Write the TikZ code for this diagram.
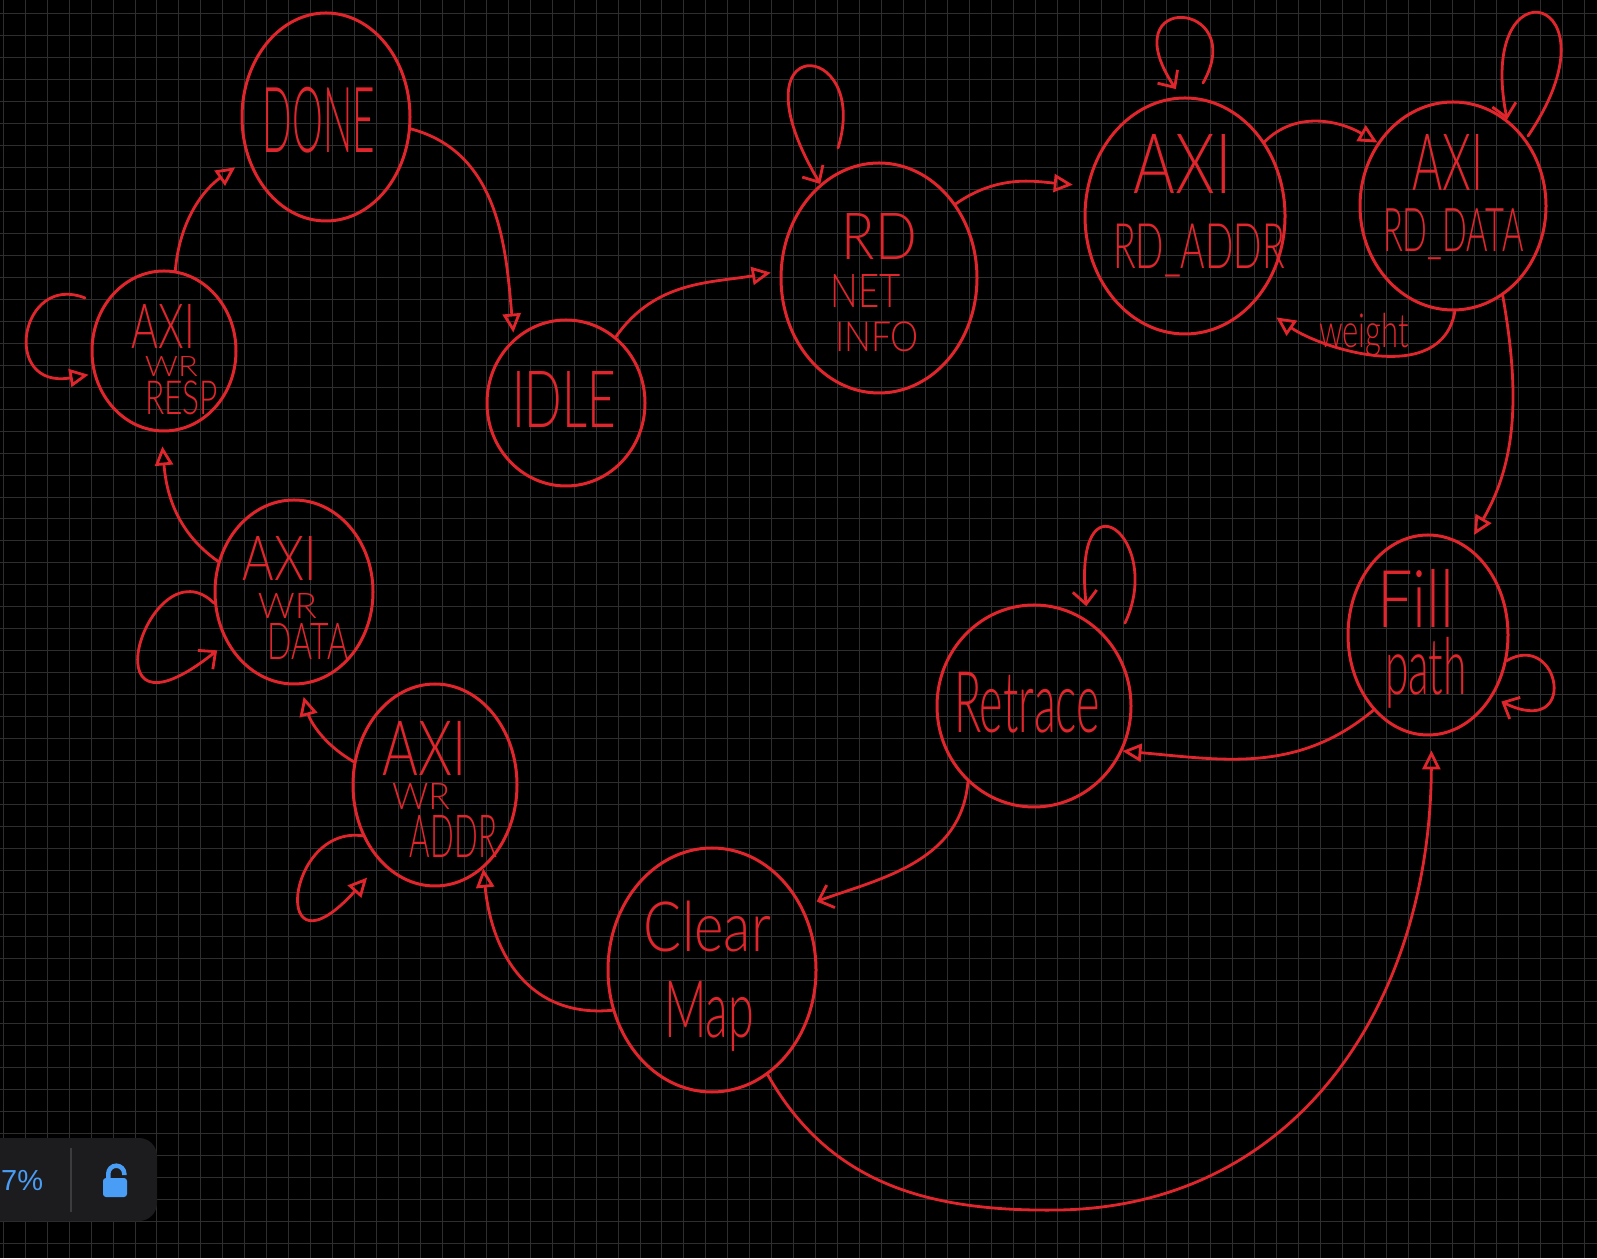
\documentclass[tikz,border=0pt]{standalone}
\usepackage{fontspec}
\newfontfamily\hand{Lato Light}
\newfontfamily\uifont{Liberation Sans}
\usetikzlibrary{shapes.geometric,arrows.meta}
\definecolor{inkred}{RGB}{224,38,44}
\definecolor{gridc}{RGB}{46,46,46}
\definecolor{widgetbg}{RGB}{28,28,30}
\definecolor{uiblue}{RGB}{74,157,245}
\definecolor{divc}{RGB}{60,60,62}
\newcommand\fitt[3]{\resizebox*{#1pt}{#2pt}{\hand #3}}
% one handwritten line: dx, dy (of its centre), width, height, text
\newcommand\tl[5]{\makebox[0pt]{\hspace*{#1pt}\hspace*{#1pt}\raisebox{\dimexpr#2pt-#4pt/2\relax}[0pt][0pt]{\raisebox{\depth}{\fitt{#3}{#4}{#5}}}}}
\begin{document}
\begin{tikzpicture}[x=1pt,y=1pt,
  state/.style={ellipse, draw=inkred, line width=3pt, inner sep=0pt, text=inkred},
  lbl/.style={inner sep=0pt, text=inkred},
  edge/.style={draw=inkred, line width=2.8pt, line cap=round, line join=round, -{Triangle[open,length=19pt,width=18pt]}},
  barb/.style={draw=inkred, line width=2.8pt, line cap=round, line join=round, -{Straight Barb[length=13pt,width=24pt]}},
  gridline/.style={draw=gridc, line width=1pt}]
\useasboundingbox (0,0) rectangle (1597,1258);
\fill[black] (0,0) rectangle (1597,1258);
\begin{scope}
\clip (0,0) rectangle (1597,1258);
% grid
\foreach \i in {0,...,72} \draw[gridline] ({3.3+21.955*\i},0) -- ({3.3+21.955*\i},1258);
\foreach \j in {0,...,56} \draw[gridline] (0,{1244-21.955*\j}) -- (1597,{1244-21.955*\j});

% widget
\fill[widgetbg, rounded corners=18pt] (-40,37) rectangle (157,120);
\node[inner sep=0pt, anchor=base west, text=uiblue, font=\uifont\fontsize{29}{29}\selectfont] (zoomtxt) at (1,68) {7\%};
\draw[divc, line width=1.2pt] (71,46) -- (71,110);
\fill[uiblue, rounded corners=3pt] (103,61) rectangle (127,80);
\draw[uiblue, line width=4.5pt] (108.3,79) -- (108.3,84.3) arc[start angle=180, end angle=0, radius=8] -- (124.3,83);

% states with their handwritten names
\node[state, minimum width=168pt, minimum height=208pt] (done) at (326,1141)
  {\tl{-7}{-3}{112}{66}{DONE}};
\node[state, minimum width=158pt, minimum height=166pt] (idle) at (566,855)
  {\tl{-2}{3}{104}{56}{IDLE}};
\node[state, minimum width=196pt, minimum height=230pt] (rdnet) at (879,980)
  {\tl{0.5}{41}{75}{46}{RD}\tl{-13}{-13.5}{70}{33}{NET}\tl{-2}{-59}{84}{30}{INFO}};
\node[state, minimum width=200pt, minimum height=236pt] (rdaddr) at (1185,1042)
  {\tl{-2}{51.5}{98}{59}{AXI}\tl{14}{-34.5}{172}{53}{RD\_ADDR}};
\node[state, minimum width=186pt, minimum height=208pt] (rddata) at (1453,1052)
  {\tl{-5.5}{43}{71}{56}{AXI}\tl{0.5}{-28.5}{141}{51}{RD\_DATA}};
\node[state, minimum width=160pt, minimum height=200pt] (fill) at (1428,623)
  {\tl{-12.5}{36}{77}{58}{Fill}\tl{-2}{-37.5}{82}{71}{path}};
\node[state, minimum width=194pt, minimum height=202pt] (retrace) at (1034,552)
  {\tl{-7}{3.5}{146}{61}{Retrace}};
\node[state, minimum width=208pt, minimum height=244pt] (clear) at (712,288)
  {\tl{-4.5}{43.5}{127}{51}{Clear}\tl{-3}{-46}{90}{70}{Map}};
\node[state, minimum width=164pt, minimum height=202pt] (wraddr) at (435,473)
  {\tl{-10}{36}{84}{54}{AXI}\tl{-14}{-12}{58}{26}{WR}\tl{18.5}{-52}{87}{42}{ADDR}};
\node[state, minimum width=158pt, minimum height=184pt] (wrdata) at (294,666)
  {\tl{-14}{33}{74}{44}{AXI}\tl{-6.5}{-14}{59}{25}{WR}\tl{14}{-50}{80}{36}{DATA}};
\node[state, minimum width=144pt, minimum height=160pt] (wrresp) at (164,907)
  {\tl{-0.5}{24}{63}{44}{AXI}\tl{7.5}{-16}{53}{20}{WR}\tl{17.5}{-47}{73}{34}{RESP}};

% transitions
\draw[edge, shorten >=15pt] (wrresp.82) to[out=85,in=215] (done.208);
\draw[edge, shorten >=6pt] (done.352) to[out=-15,in=95] (idle.129);
\draw[edge, shorten >=9pt] (idle.53) to[out=55,in=190] (rdnet.176);
\draw[edge, shorten >=14pt] (rdnet.44) to[out=35,in=175] (rdaddr.163);
\draw[edge] (rdaddr.43) to[out=45,in=150] (rddata.140);
\draw[edge, shorten >=26pt] (rddata.271) to[out=-100,in=-35] (rdaddr.309);
\node[lbl] (tweight) at (1364,923.5) {\fitt{90}{43}{weight}};
\draw[edge, shorten >=13pt] (rddata.299) to[out=-80,in=60] (fill.66);
\draw[edge] (fill.234) to[out=220,in=-5] (retrace.333);
\draw[barb, shorten >=15pt] (retrace.229) to[out=-95,in=20] (clear.35);
\draw[edge] (clear.202) .. controls (530,240) and (492,303) .. (wraddr.300);
\draw[edge, shorten >=12pt] (wraddr.164) to[out=150,in=-75] (wrdata.274);
\draw[edge, shorten >=14pt] (wrdata.158) to[out=145,in=-85] (wrresp.268);
\coordinate (bottomturn) at (1060,48);
\draw[edge, shorten >=14pt] (clear.298) .. controls (830,73) and (930,46) .. (bottomturn) .. controls (1300,53) and (1430,258) .. (fill.272);

% self loops
\coordinate (l1s) at (85,960);
\draw[edge, shorten >=5pt] (l1s) .. controls (20,986) and (0,868) .. (wrresp.198);
\draw[barb, shorten >=12pt] (wrdata.188) .. controls (150,718) and (80,498) .. (wrdata.217);
\draw[edge, shorten >=20pt] (wraddr.215) .. controls (285,433) and (270,273) .. (wraddr.235);
\coordinate (l4s) at (838,1110);
\draw[barb] (l4s) .. controls (872,1220) and (728,1230) .. (rdnet.122);
\coordinate (l5s) at (1203,1175);
\draw[barb, shorten >=9pt] (l5s) .. controls (1250,1258) and (1110,1268) .. (rdaddr.92);
\coordinate (l6s) at (1528,1122);
\draw[barb] (l6s) .. controls (1625,1265) and (1475,1300) .. (rddata.58);
\coordinate (l7s) at (1125,635);
\draw[barb, shorten >=14pt] (l7s) .. controls (1165,720) and (1072,792) .. (retrace.58);
\draw[barb, shorten >=10pt] (fill.342) .. controls (1560,628) and (1580,518) .. (fill.316);
\end{scope}
\end{tikzpicture}
\end{document}
